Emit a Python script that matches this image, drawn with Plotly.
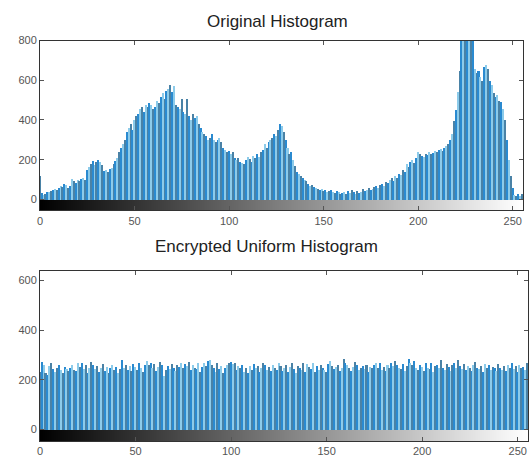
import plotly.graph_objects as go

bins = list(range(256))

orig_counts = [
    120, 35, 25, 30, 40, 38, 45, 50, 55, 48, 60, 70, 65, 80, 75, 60,
    70, 105, 95, 85, 100, 95, 105, 110, 100, 150, 165, 180, 195, 175, 190, 200,
    190, 175, 145, 150, 140, 155, 160, 180, 195, 210, 240, 260, 280, 300, 340, 360,
    380, 350, 400, 420, 430, 460, 470, 440, 480, 470, 490, 480, 460, 470, 500, 490,
    520, 540, 510, 550, 560, 580, 545, 575, 480, 470, 460, 510, 440, 430, 510, 420,
    400, 430, 410, 420, 380, 360, 340, 330, 320, 300, 310, 330, 300, 290, 300, 310,
    290, 260, 250, 240, 245, 230, 240, 210, 200, 210, 190, 185, 180, 200, 215, 205,
    190, 220, 210, 230, 215, 240, 250, 280, 260, 290, 300, 310, 330, 320, 350, 380,
    370, 340, 300, 260, 230, 240, 200, 170, 140, 130, 120, 110, 100, 95, 80, 70,
    75, 65, 60, 55, 50, 55, 45, 50, 40, 45, 50, 40, 35, 45, 40, 30,
    35, 40, 30, 45, 35, 50, 40, 30, 45, 35, 40, 55, 45, 50, 60, 50,
    55, 65, 70, 60, 75, 80, 70, 90, 85, 100, 110, 95, 120, 110, 130, 125,
    150, 140, 180, 165, 190, 200, 185, 210, 240, 230, 220, 215, 230, 225, 240, 230,
    235, 245, 240, 250, 255, 245, 260, 270, 280, 300, 330, 395, 450, 545, 650, 800,
    860, 900, 880, 850, 870, 820, 660, 640, 650, 620, 600, 670, 680, 660, 600, 580,
    540, 520, 530, 500, 495, 460, 400, 300, 200, 120, 60, 25, 20, 30, 20, 30,
]

enc_counts = [
    235, 275, 262, 230, 220, 258, 270, 245, 232, 250, 262, 240, 228, 252, 245, 238,
    250, 260, 242, 236, 268, 255, 270, 245, 262, 228, 250, 272, 260, 244, 258, 235,
    248, 265, 238, 255, 230, 248, 262, 240, 252, 228, 245, 282, 250, 262, 240, 258,
    236, 265, 255, 240, 268, 250, 232, 260, 278, 262, 270, 250, 266, 238, 255, 272,
    260, 218, 240, 258, 245, 265, 250, 236, 262, 255, 270, 248, 266, 258, 275, 240,
    262, 250, 244, 270, 235, 255, 268, 258, 278, 282, 262, 250, 235, 268, 244, 256,
    230, 248, 262, 270, 272, 265, 270, 240, 258, 248, 262, 235, 250, 228, 256, 240,
    265, 248, 258, 232, 250, 270, 262, 240, 255, 236, 262, 250, 242, 270, 258, 236,
    248, 262, 235, 255, 268, 245, 230, 258, 250, 240, 270, 232, 265, 252, 246, 270,
    235, 258, 242, 262, 250, 240, 232, 265, 278, 258, 245, 255, 262, 238, 250, 285,
    270, 262, 248, 236, 255, 275, 262, 240, 250, 258, 244, 262, 235, 255, 248, 262,
    270, 250, 268, 240, 255, 236, 262, 248, 270, 258, 276, 262, 250, 244, 266, 238,
    258, 285, 270, 262, 278, 250, 240, 262, 255, 236, 268, 250, 245, 270, 232, 258,
    262, 248, 280, 250, 240, 266, 255, 238, 262, 270, 250, 282, 256, 244, 265, 240,
    258, 250, 238, 262, 275, 248, 245, 258, 232, 266, 250, 262, 240, 255, 248, 236,
    265, 250, 242, 258, 236, 262, 250, 270, 244, 258, 235, 262, 248, 255, 240, 268,
]

top_ticks = [0, 200, 400, 600, 800]
bot_ticks = [0, 200, 400, 600]
x_ticks = [0, 50, 100, 150, 200, 250]
titles = ["Original Histogram", "Encrypted Uniform Histogram"]

W, H = 531, 462
ML, MR = 40, 3
PW = W - ML - MR

# the stem bars render as a striped mix of blues in the reference
STRIPES = ["#4a82a6", "#2a8ad0", "#8ccbea"]
bar_colors = [STRIPES[i % 3] for i in range(len(bins))]
font = "Liberation Sans, Arial, sans-serif"

fig = go.Figure()

# gradient strips
for ax, ylo in (("", -55), ("2", -48)):
    fig.add_trace(go.Heatmap(
        z=[bins], x=bins, y=[ylo, 0],
        colorscale=[[0, "black"], [1, "white"]], showscale=False,
        xaxis="x" + ax, yaxis="y" + ax, hoverinfo="skip"))

fig.add_trace(go.Bar(x=bins, y=orig_counts, width=0.8, marker_color=bar_colors,
                     marker_line_width=0, xaxis="x", yaxis="y"))
fig.add_trace(go.Bar(x=bins, y=enc_counts, width=0.8, marker_color=bar_colors,
                     marker_line_width=0, xaxis="x2", yaxis="y2"))

axis_common = dict(showline=True, linecolor="#333", linewidth=1, mirror="allticks",
                   ticks="inside", ticklen=4, tickcolor="#555", showgrid=False,
                   tickfont=dict(family=font, size=11, color="#555"))

def ydom(top_px, bot_px):
    return [1 - bot_px / H, 1 - top_px / H]

fig.update_layout(
    width=W, height=H,
    margin=dict(l=ML, r=MR, t=0, b=0),
    paper_bgcolor="white", plot_bgcolor="white",
    showlegend=False, bargap=0,
    xaxis=dict(domain=[0, (523 - ML) / PW], range=[0, 255.4], tickvals=x_ticks,
               anchor="y", **axis_common),
    yaxis=dict(domain=ydom(35, 207), range=[-55, 800], tickvals=top_ticks,
               anchor="x", zeroline=True, zerolinecolor="#222", zerolinewidth=1,
               **axis_common),
    xaxis2=dict(domain=[0, 1], range=[0, 255.4], tickvals=x_ticks, anchor="y2",
                **axis_common),
    yaxis2=dict(domain=ydom(268, 441), range=[-48, 640], tickvals=bot_ticks,
                anchor="x2", zeroline=True, zerolinecolor="#222", zerolinewidth=1,
                **axis_common),
    annotations=[
        dict(text=titles[0], x=(277 - ML) / PW, y=1 - 16 / H, xref="paper", yref="paper",
             yanchor="middle", showarrow=False,
             font=dict(family=font, size=17, color="#222")),
        dict(text=titles[1], x=(266 - ML) / PW, y=1 - 244 / H, xref="paper", yref="paper",
             yanchor="middle", showarrow=False,
             font=dict(family=font, size=17, color="#222")),
    ],
)

fig.write_html("out.html")
